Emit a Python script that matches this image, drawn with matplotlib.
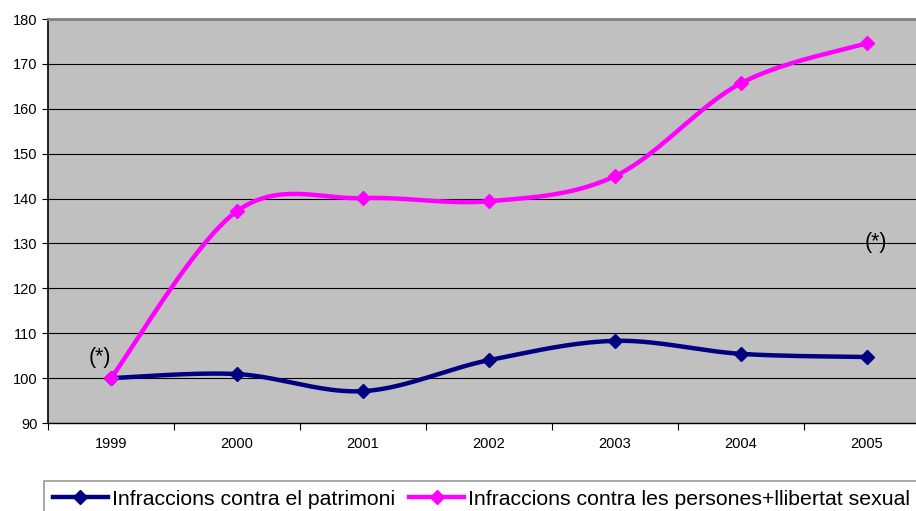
import numpy as np
import matplotlib.pyplot as plt
from matplotlib.lines import Line2D

plt.rcParams['font.family'] = ['Liberation Sans', 'DejaVu Sans']

years = ['1999', '2000', '2001', '2002', '2003', '2004', '2005']
patrimoni = [100, 100.9, 97.1, 104.0, 108.3, 105.4, 104.7]
persones = [100, 137.2, 140.1, 139.4, 145.0, 165.7, 174.6]

label_patrimoni = 'Infraccions contra el patrimoni'
label_persones = 'Infraccions contra les persones+llibertat sexual'

navy = '#000080'
magenta = '#FF00FF'


def smooth(xs, ys, n=40):
    # Bezier smoothing through the points (Excel-style smoothed line)
    p = np.column_stack([xs, ys]).astype(float)
    ext = np.vstack([p[0], p, p[-1]])
    out = []
    t = np.linspace(0, 1, n)[:, None]
    for i in range(len(p) - 1):
        p0, p3 = ext[i + 1], ext[i + 2]
        c1 = p0 + (ext[i + 2] - ext[i]) / 6
        c2 = p3 - (ext[i + 3] - ext[i + 1]) / 6
        seg = ((1 - t) ** 3) * p0 + 3 * ((1 - t) ** 2) * t * c1 + 3 * (1 - t) * t ** 2 * c2 + t ** 3 * p3
        out.append(seg if i == 0 else seg[1:])
    out = np.vstack(out)
    return out[:, 0], out[:, 1]


fig = plt.figure(figsize=(9.16, 5.11), dpi=100)
ax = fig.add_axes([48 / 916, 88 / 511, 882 / 916, 404 / 511])
ax.set_facecolor('#C0C0C0')

x = np.arange(len(years))
for vals, col in [(patrimoni, navy), (persones, magenta)]:
    sx, sy = smooth(x, vals)
    ax.plot(sx, sy, color=col, lw=3.2, solid_capstyle='round', zorder=3)
    ax.plot(x, vals, ls='none', marker='D', ms=7, color=col, zorder=4)

ax.set_xlim(-0.5, 6.5)
ax.set_ylim(90, 180)
ax.set_yticks(np.arange(90, 181, 10))
ax.yaxis.grid(True, color='black', lw=0.8)
ax.set_axisbelow(True)

ax.set_xticks(x)
ax.set_xticklabels(years)
ax.set_xticks(np.arange(-0.5, 7, 1), minor=True)
ax.tick_params(axis='x', which='major', length=0, pad=10, labelsize=10.5)
ax.tick_params(axis='x', which='minor', length=5, width=0.8, direction='out')
ax.tick_params(axis='y', length=4.5, width=0.8, labelsize=10.5, pad=3)

ax.spines['right'].set_visible(False)
ax.spines['top'].set_color('#808080')
ax.spines['top'].set_linewidth(2)
ax.spines['left'].set_linewidth(1.2)
ax.spines['bottom'].set_linewidth(1)

ax.text(-0.09, 104.7, '(*)', fontsize=15.5, ha='center', va='center')
ax.text(6.07, 130.1, '(*)', fontsize=15.5, ha='center', va='center')

handles = [Line2D([], [], color=navy, lw=3.2, marker='D', ms=7),
           Line2D([], [], color=magenta, lw=3.2, marker='D', ms=7)]
leg = fig.legend(handles, [label_patrimoni, label_persones], ncol=2,
                 loc='upper left', bbox_to_anchor=(44 / 916, 1 - 481 / 511),
                 fontsize=15.3, frameon=True, fancybox=False,
                 handlelength=2.6, handletextpad=0.2, columnspacing=0.65,
                 borderpad=0.4, borderaxespad=0)
leg.get_frame().set_edgecolor('#808080')
leg.get_frame().set_linewidth(1.2)

fig.savefig('out.png', dpi=100)
